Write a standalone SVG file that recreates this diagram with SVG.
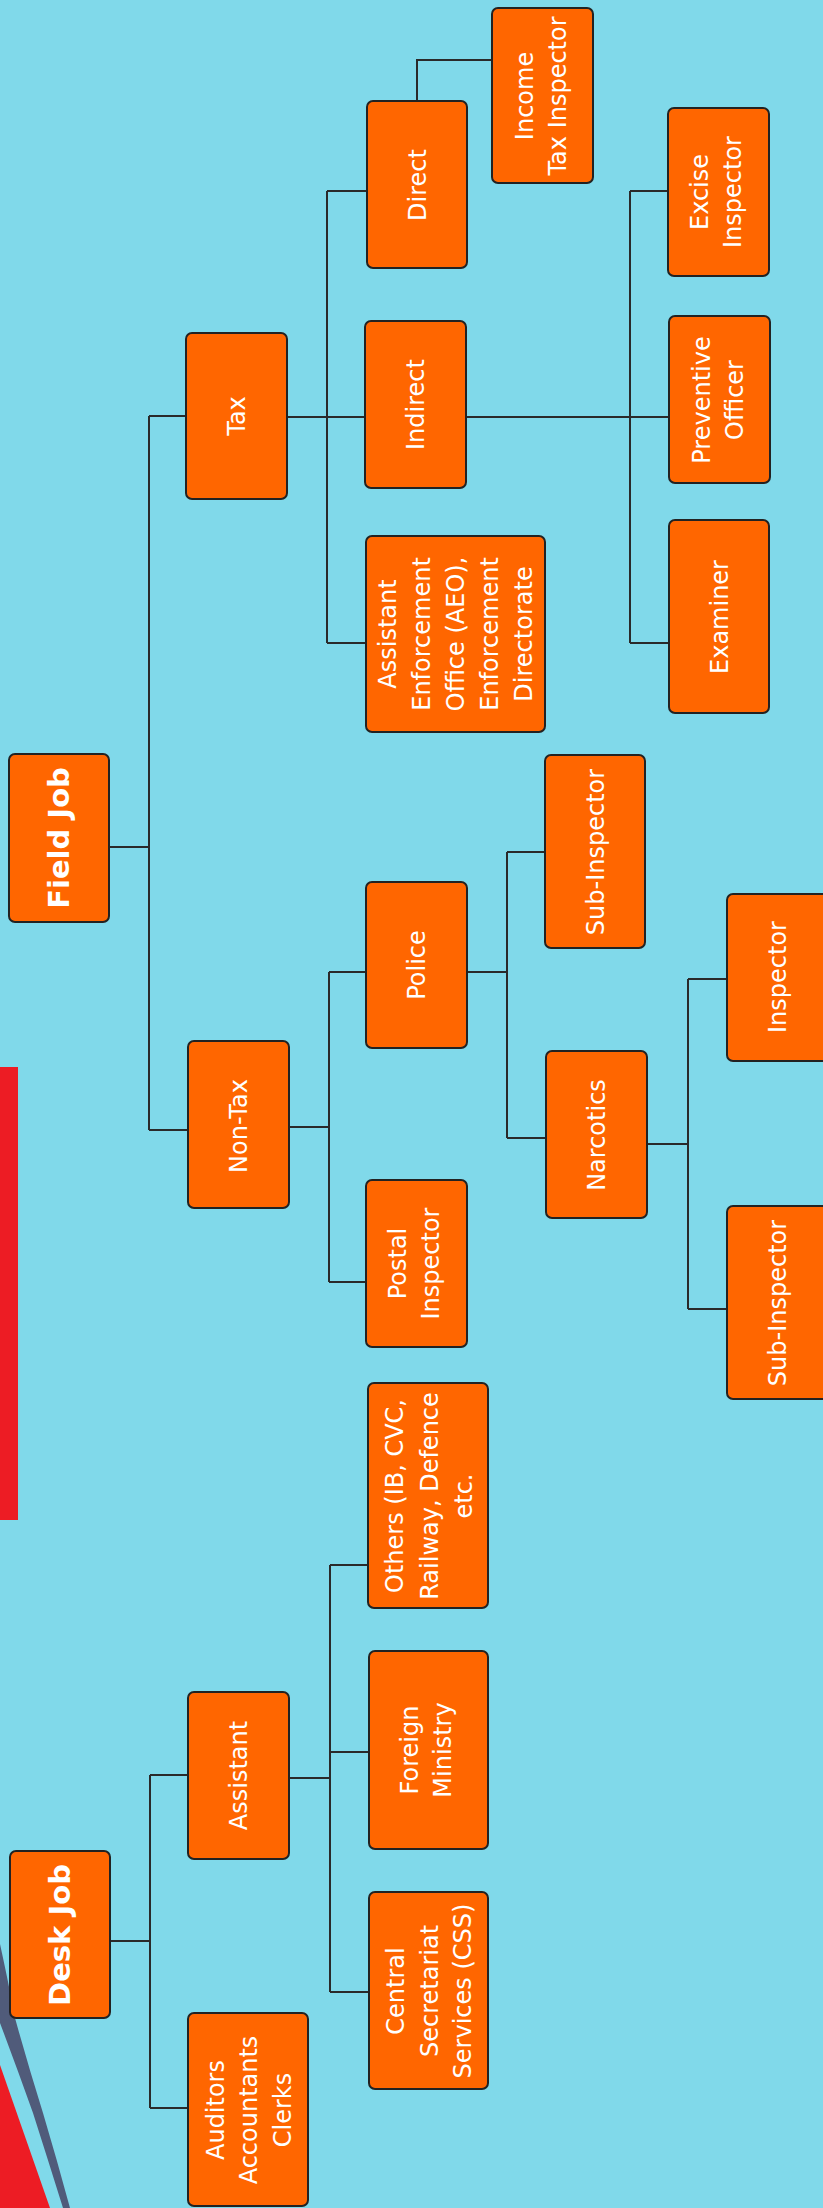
<svg xmlns="http://www.w3.org/2000/svg" width="823" height="2208" viewBox="0 0 823 2208">
<style>
.bg{fill:#80D9EA}
.box{fill:#FF6600;stroke:#222;stroke-width:2}
.t{fill:#fff;font-family:"DejaVu Sans",sans-serif;font-size:24px;text-anchor:middle}
.tb{fill:#fff;font-family:"DejaVu Sans",sans-serif;font-size:29px;font-weight:bold;text-anchor:middle}
.ln{fill:none;stroke:#2a2a2a;stroke-width:2}
</style>
<rect class="bg" x="0" y="0" width="823" height="2208"/>
<g id="decor">
<rect x="0" y="1067" width="18" height="453" fill="#ED1C24"/>
<path d="M0,2065 L50,2208 L0,2208 Z" fill="#ED1C24"/>
<path d="M0,1944 Q10,1990 15,2018 Q28,2065 43,2113 Q57,2160 70,2208 L63,2208 Q48,2160 33,2113 Q17,2068 0,2023 Z" fill="#505B7A"/>
</g>
<g id="connectors">
<path class="ln" d="M109,847 H149 M149,416 V1130 M149,416 H186 M149,1130 H188"/>
<path class="ln" d="M287,417 H365 M327,191 V643 M327,191 H367 M327,643 H366"/>
<path class="ln" d="M466,417 H669 M630,191 V643 M630,191 H668 M630,643 H669"/>
<path class="ln" d="M417,101 V60 H492"/>
<path class="ln" d="M289,1127 H329 M329,972 V1282 M329,972 H366 M329,1282 H366"/>
<path class="ln" d="M467,972 H507 M507,852 V1138 M507,852 H545 M507,1138 H546"/>
<path class="ln" d="M647,1144 H688 M688,979 V1309 M688,979 H727 M688,1309 H727"/>
<path class="ln" d="M110,1941 H150 M150,1775 V2108 M150,1775 H188 M150,2108 H188"/>
<path class="ln" d="M289,1778 H330 M330,1565 V1992 M330,1565 H368 M330,1752 H369 M330,1992 H369"/>
</g>
<g id="n-field"><rect class="box" x="9" y="754" width="100" height="168" rx="6"/>
<text class="tb" transform="translate(59,838) rotate(-90)"><tspan x="0" y="10">Field Job</tspan></text></g>
<g id="n-desk"><rect class="box" x="10" y="1851" width="100" height="167" rx="6"/>
<text class="tb" transform="translate(60,1935) rotate(-90)"><tspan x="0" y="10">Desk Job</tspan></text></g>
<g id="n-tax"><rect class="box" x="186" y="333" width="101" height="166" rx="6"/>
<text class="t" transform="translate(236.5,416) rotate(-90)"><tspan x="0" y="8.5">Tax</tspan></text></g>
<g id="n-nontax"><rect class="box" x="188" y="1041" width="101" height="167" rx="6"/>
<text class="t" transform="translate(238.5,1126) rotate(-90)"><tspan x="0" y="8.5">Non-Tax</tspan></text></g>
<g id="n-assistant"><rect class="box" x="188" y="1692" width="101" height="167" rx="6"/>
<text class="t" transform="translate(238.5,1775.5) rotate(-90)"><tspan x="0" y="8.5">Assistant</tspan></text></g>
<g id="n-auditors"><rect class="box" x="188" y="2013" width="120" height="193" rx="6"/>
<text class="t" transform="translate(248.5,2110) rotate(-90)"><tspan x="0" y="-25">Auditors</tspan><tspan x="0" y="8.5">Accountants</tspan><tspan x="0" y="42">Clerks</tspan></text></g>
<g id="n-direct"><rect class="box" x="367" y="101" width="100" height="167" rx="6"/>
<text class="t" transform="translate(417,185) rotate(-90)"><tspan x="0" y="8.5">Direct</tspan></text></g>
<g id="n-indirect"><rect class="box" x="365" y="321" width="101" height="167" rx="6"/>
<text class="t" transform="translate(415.5,404.5) rotate(-90)"><tspan x="0" y="8.5">Indirect</tspan></text></g>
<g id="n-aeo"><rect class="box" x="366" y="536" width="179" height="196" rx="6"/>
<text class="t" transform="translate(455.5,634) rotate(-90)"><tspan x="0" y="-59.5">Assistant</tspan><tspan x="0" y="-25.5">Enforcement</tspan><tspan x="0" y="8.5">Office (AEO),</tspan><tspan x="0" y="42.5">Enforcement</tspan><tspan x="0" y="76.5">Directorate</tspan></text></g>
<g id="n-police"><rect class="box" x="366" y="882" width="101" height="166" rx="6"/>
<text class="t" transform="translate(416.5,965) rotate(-90)"><tspan x="0" y="8.5">Police</tspan></text></g>
<g id="n-postal"><rect class="box" x="366" y="1180" width="101" height="167" rx="6"/>
<text class="t" transform="translate(414,1263.5) rotate(-90)"><tspan x="0" y="-8">Postal</tspan><tspan x="0" y="25">Inspector</tspan></text></g>
<g id="n-others"><rect class="box" x="368" y="1383" width="120" height="225" rx="6"/>
<text class="t" transform="translate(429,1496) rotate(-90)"><tspan x="0" y="-26">Others (IB, CVC,</tspan><tspan x="0" y="8.5">Railway, Defence</tspan><tspan x="0" y="43">etc.</tspan></text></g>
<g id="n-foreign"><rect class="box" x="369" y="1651" width="119" height="198" rx="6"/>
<text class="t" transform="translate(426,1750) rotate(-90)"><tspan x="0" y="-8">Foreign</tspan><tspan x="0" y="25">Ministry</tspan></text></g>
<g id="n-css"><rect class="box" x="369" y="1892" width="119" height="197" rx="6"/>
<text class="t" transform="translate(429,1991) rotate(-90)"><tspan x="0" y="-25">Central</tspan><tspan x="0" y="8.5">Secretariat</tspan><tspan x="0" y="42">Services (CSS)</tspan></text></g>
<g id="n-income"><rect class="box" x="492" y="8" width="101" height="175" rx="6"/>
<text class="t" transform="translate(541,96) rotate(-90)"><tspan x="0" y="-8">Income</tspan><tspan x="0" y="25">Tax Inspector</tspan></text></g>
<g id="n-excise"><rect class="box" x="668" y="108" width="101" height="168" rx="6"/>
<text class="t" transform="translate(716,192) rotate(-90)"><tspan x="0" y="-8">Excise</tspan><tspan x="0" y="25">Inspector</tspan></text></g>
<g id="n-preventive"><rect class="box" x="669" y="316" width="101" height="167" rx="6"/>
<text class="t" transform="translate(718,400) rotate(-90)"><tspan x="0" y="-8">Preventive</tspan><tspan x="0" y="25">Officer</tspan></text></g>
<g id="n-examiner"><rect class="box" x="669" y="520" width="100" height="193" rx="6"/>
<text class="t" transform="translate(719,617) rotate(-90)"><tspan x="0" y="8.5">Examiner</tspan></text></g>
<g id="n-subinsp1"><rect class="box" x="545" y="755" width="100" height="193" rx="6"/>
<text class="t" transform="translate(595,852) rotate(-90)"><tspan x="0" y="8.5">Sub-Inspector</tspan></text></g>
<g id="n-narcotics"><rect class="box" x="546" y="1051" width="101" height="167" rx="6"/>
<text class="t" transform="translate(596.5,1135) rotate(-90)"><tspan x="0" y="8.5">Narcotics</tspan></text></g>
<g id="n-inspector"><rect class="box" x="727" y="894" width="101" height="167" rx="6"/>
<text class="t" transform="translate(777.5,977) rotate(-90)"><tspan x="0" y="8.5">Inspector</tspan></text></g>
<g id="n-subinsp2"><rect class="box" x="727" y="1206" width="101" height="193" rx="6"/>
<text class="t" transform="translate(777.5,1303) rotate(-90)"><tspan x="0" y="8.5">Sub-Inspector</tspan></text></g>
</svg>
